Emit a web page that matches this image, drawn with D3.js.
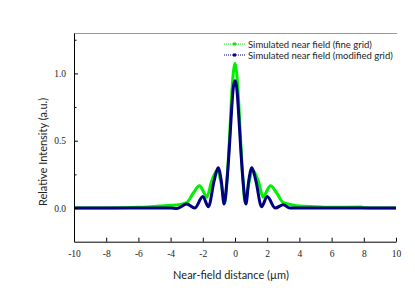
<!DOCTYPE html>
<html>
<head>
<meta charset="utf-8">
<script src="https://cdn.jsdelivr.net/npm/d3@7"></script>
<style>
html,body{margin:0;padding:0;background:#fff;}
svg{display:block;}
</style>
</head>
<body>
<svg id="chart" width="415" height="291"></svg>
<script>
// Data
const fineX = [-10,-8,-6,-5,-4,-3.5,-3.0,-2.6,-2.2,-1.95,-1.75,-1.45,-1.1,-0.85,-0.63,-0.5,-0.35,-0.2,-0.1,0,0.1,0.2,0.35,0.5,0.63,0.85,1.1,1.45,1.75,1.95,2.2,2.6,3.0,3.5,4,5,6,7.8,8,10];
const fineY = [0,0,0.005,0.012,0.02,0.025,0.04,0.11,0.165,0.12,0.08,0.2,0.28,0.18,0.04,0.2,0.5,0.85,1.01,1.075,1.01,0.85,0.5,0.2,0.04,0.18,0.28,0.2,0.08,0.12,0.165,0.11,0.04,0.025,0.015,0.01,0.005,0.008,0.003,0];
const modX = [-10,-6,-4,-3.6,-3.0,-2.5,-2.0,-1.65,-1.3,-1.05,-0.85,-0.68,-0.5,-0.35,-0.2,-0.1,0,0.1,0.2,0.35,0.5,0.68,0.85,1.05,1.3,1.65,2.0,2.5,3.0,3.4,4,6,10];
const modY = [0,0,0,-0.003,0.03,0,0.085,0.01,0.2,0.3,0.2,0.03,0.2,0.45,0.75,0.9,0.945,0.9,0.75,0.45,0.2,0.03,0.2,0.3,0.2,0.01,0.085,0,0.025,0,0,0,0];
const xTicks = [-10,-8,-6,-4,-2,0,2,4,6,8,10];
const yMajor = [0,0.5,1.0];
const yMinor = [0.25,0.75,1.25];
const seriesNames = ["Simulated near field (fine grid)","Simulated near field (modified grid)"];
const seriesColors = ["#00f000","#000080"];

const svg = d3.select("#chart");
const L = 74, R = 396, T = 33, B = 241.7;
const x = d3.scaleLinear().domain([-10,10]).range([L,R]);
const y = d3.scaleLinear().domain([-0.25,1.3]).range([B,T]);

// top border (gray)
svg.append("line").attr("x1",L).attr("x2",R+1).attr("y1",T+0.5).attr("y2",T+0.5)
  .attr("stroke","#999").attr("stroke-width",1);

// curves
const line = d3.line().x(d=>x(d[0])).y(d=>y(d[1])).curve(d3.curveMonotoneX);
const fine = fineX.map((v,i)=>[v,fineY[i]]);
const mod = modX.map((v,i)=>[v,modY[i]]);
svg.append("path").datum(fine).attr("d",line).attr("fill","none")
  .attr("stroke",seriesColors[0]).attr("stroke-width",3).attr("stroke-linejoin","round");
svg.append("path").datum(mod).attr("d",line).attr("fill","none")
  .attr("stroke",seriesColors[1]).attr("stroke-width",3).attr("stroke-linejoin","round");

// x axis
const xAxis = d3.axisBottom(x).tickValues(xTicks).tickSizeInner(-4).tickSizeOuter(0).tickPadding(9)
  .tickFormat(d3.format("d"));
const gx = svg.append("g").attr("transform",`translate(0,${B})`).call(xAxis);
gx.select(".domain").attr("stroke","#000");
gx.selectAll(".tick line").attr("stroke","#000");
gx.selectAll("text").attr("font-family","'Liberation Serif', serif").attr("font-size",9.5).attr("fill","#222")
  .text(d=>d<0 ? "-"+Math.abs(d) : d);

// y axis
const yAxis = d3.axisLeft(y).tickValues(yMajor).tickSizeInner(-4).tickSizeOuter(0).tickPadding(8)
  .tickFormat(d3.format(".1f"));
const gy = svg.append("g").attr("transform",`translate(${L},0)`).call(yAxis);
gy.select(".domain").attr("stroke","#000");
gy.selectAll(".tick line").attr("stroke","#000");
gy.selectAll("text").attr("font-family","'Liberation Serif', serif").attr("font-size",9.5).attr("fill","#222");
const yAxisMinor = d3.axisLeft(y).tickValues(yMinor).tickSizeInner(-2.5).tickSizeOuter(0).tickFormat("");
const gym = svg.append("g").attr("transform",`translate(${L},0)`).call(yAxisMinor);
gym.select(".domain").remove();
gym.selectAll(".tick line").attr("stroke","#000");

// axis titles
svg.append("text").attr("x",231).attr("y",279).attr("text-anchor","middle")
  .attr("font-family","Lato, sans-serif").attr("font-size",11).attr("fill","#222")
  .text("Near-field distance (µm)");
svg.append("text").attr("transform",`translate(47,152) rotate(-90)`).attr("text-anchor","middle")
  .attr("font-family","Lato, sans-serif").attr("font-size",11).attr("fill","#222")
  .text("Relative Intensity (a.u.)");

// legend
const leg = svg.append("g");
seriesNames.forEach((name,i)=>{
  const ly = 44 + i*11;
  leg.append("line").attr("x1",224).attr("x2",245).attr("y1",ly).attr("y2",ly)
    .attr("stroke",seriesColors[i]).attr("stroke-width",1).attr("stroke-dasharray","1,1");
  leg.append("rect").attr("x",233).attr("y",ly-1.5).attr("width",3).attr("height",3).attr("fill",seriesColors[i]);
  leg.append("text").attr("x",248).attr("y",ly+3.5).attr("font-family","Lato, sans-serif")
    .attr("font-size",9.5).attr("fill","#222").text(name);
});
</script>
</body>
</html>
